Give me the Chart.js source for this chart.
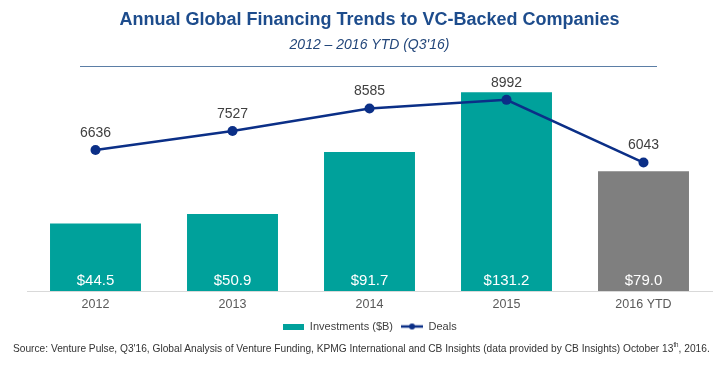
<!DOCTYPE html>
<html>
<head>
<meta charset="utf-8">
<script src="https://cdn.jsdelivr.net/npm/chart.js@4"></script>
<style>
  body { margin: 0; background: #fff; }
  #wrap { position: relative; width: 727px; height: 365px; overflow: hidden; }
  #rule { position: absolute; left: 80px; top: 66px; width: 577px; height: 1px; background: #5b7ea6; }
  #source { position: absolute; left: 13px; top: 341px; font: 11.5px "Liberation Sans", Arial, sans-serif; color: #333; white-space: nowrap; transform-origin: 0 0; }
  #source sup { font-size: 7px; }
</style>
</head>
<body>
<div id="wrap">
  <canvas id="vcChart" width="727" height="365"></canvas>
  <div id="rule"></div>
  <div id="source">Source: Venture Pulse, Q3'16, Global Analysis of Venture Funding, KPMG International and CB Insights (data provided by CB Insights) October 13<sup>th</sup>, 2016.</div>
</div>
<script>
const categories = ['2012', '2013', '2014', '2015', '2016 YTD'];
const investments = [44.5, 50.9, 91.7, 131.2, 79.0];
const deals = [6636, 7527, 8585, 8992, 6043];

const teal = '#00a19b';
const grey = '#7f7f7f';
const navy = '#0b2f87';
const sans = '"Liberation Sans", Arial, sans-serif';

// squeeze the source line to the width it has in the slide
let src = document.getElementById('source');
src.style.transform = 'scaleX(' + (697 / src.scrollWidth) + ')';

// little canvases used as legend markers
let barMark = document.createElement('canvas');
barMark.width = 21; barMark.height = 6;
let bctx = barMark.getContext('2d');
bctx.fillStyle = teal;
bctx.fillRect(0, 0, 21, 6);

let lineMark = document.createElement('canvas');
lineMark.width = 22; lineMark.height = 8;
let lctx = lineMark.getContext('2d');
lctx.strokeStyle = navy;
lctx.lineWidth = 2.5;
lctx.beginPath(); lctx.moveTo(0, 4); lctx.lineTo(22, 4); lctx.stroke();
lctx.fillStyle = navy;
lctx.beginPath(); lctx.arc(11, 4, 3, 0, Math.PI * 2); lctx.fill();

const valueLabels = {
    id: 'valueLabels',
    afterDatasetsDraw(chart) {
        const ctx = chart.ctx;
        ctx.save();
        ctx.textAlign = 'center';
        ctx.textBaseline = 'middle';

        ctx.font = '15px ' + sans;
        ctx.fillStyle = '#ffffff';
        chart.getDatasetMeta(1).data.forEach(function (bar, i) {
            ctx.fillText('$' + investments[i].toFixed(1), bar.x, bar.base - 10);
        });

        ctx.font = '14px ' + sans;
        ctx.fillStyle = '#404040';
        chart.getDatasetMeta(0).data.forEach(function (pt, i) {
            ctx.fillText(String(deals[i]), pt.x, pt.y - 17);
        });
        ctx.restore();
    }
};

let ctx = document.getElementById('vcChart').getContext('2d');

let vcChart = new Chart(ctx, {
    type: 'bar',
    data: {
        labels: categories,
        datasets: [{
            type: 'line',
            label: 'Deals',
            data: deals,
            yAxisID: 'y1',
            borderColor: navy,
            backgroundColor: navy,
            borderWidth: 2.5,
            pointRadius: 5,
            pointBackgroundColor: navy,
            pointBorderWidth: 0,
            order: 0
        }, {
            label: 'Investments ($B)',
            data: investments,
            yAxisID: 'y',
            backgroundColor: [teal, teal, teal, teal, grey],
            categoryPercentage: 1,
            barPercentage: 0.664,
            order: 1
        }]
    },
    plugins: [valueLabels],
    options: {
        responsive: false,
        animation: false,
        layout: { padding: { left: 27, right: 15, top: 0, bottom: 23 } },
        plugins: {
            title: {
                display: true,
                text: 'Annual Global Financing Trends to VC-Backed Companies',
                color: '#1d4c8c',
                font: { family: sans, size: 18, weight: 'bold' },
                padding: { top: 9, bottom: 4 }
            },
            subtitle: {
                display: true,
                text: '2012 \u2013 2016 YTD (Q3\'16)',
                color: '#22467a',
                font: { family: sans, size: 14, style: 'italic' },
                padding: { top: 2, bottom: 18 }
            },
            legend: {
                position: 'bottom',
                labels: {
                    usePointStyle: true,
                    pointStyleWidth: 22,
                    boxWidth: 22,
                    padding: 8,
                    color: '#404040',
                    font: { family: sans, size: 11 },
                    generateLabels: function () {
                        return [
                            { text: 'Investments ($B)', pointStyle: barMark, fillStyle: teal, strokeStyle: 'transparent', lineWidth: 0, fontColor: '#404040', datasetIndex: 1 },
                            { text: 'Deals', pointStyle: lineMark, fillStyle: navy, strokeStyle: 'transparent', lineWidth: 0, fontColor: '#404040', datasetIndex: 0 }
                        ];
                    }
                }
            },
            tooltip: { enabled: false }
        },
        scales: {
            x: {
                grid: { display: false, drawTicks: false },
                border: { display: true, color: '#d9d9d9', width: 1 },
                ticks: {
                    color: '#595959',
                    padding: 6,
                    font: { family: sans, size: 12.5 }
                },
                afterFit: function (scale) {
                    scale.height -= 5;
                }
            },
            y: {
                display: false,
                min: 0,
                max: 145
            },
            y1: {
                display: false,
                position: 'right',
                min: 0,
                max: 10330
            }
        }
    }
});
</script>
</body>
</html>
